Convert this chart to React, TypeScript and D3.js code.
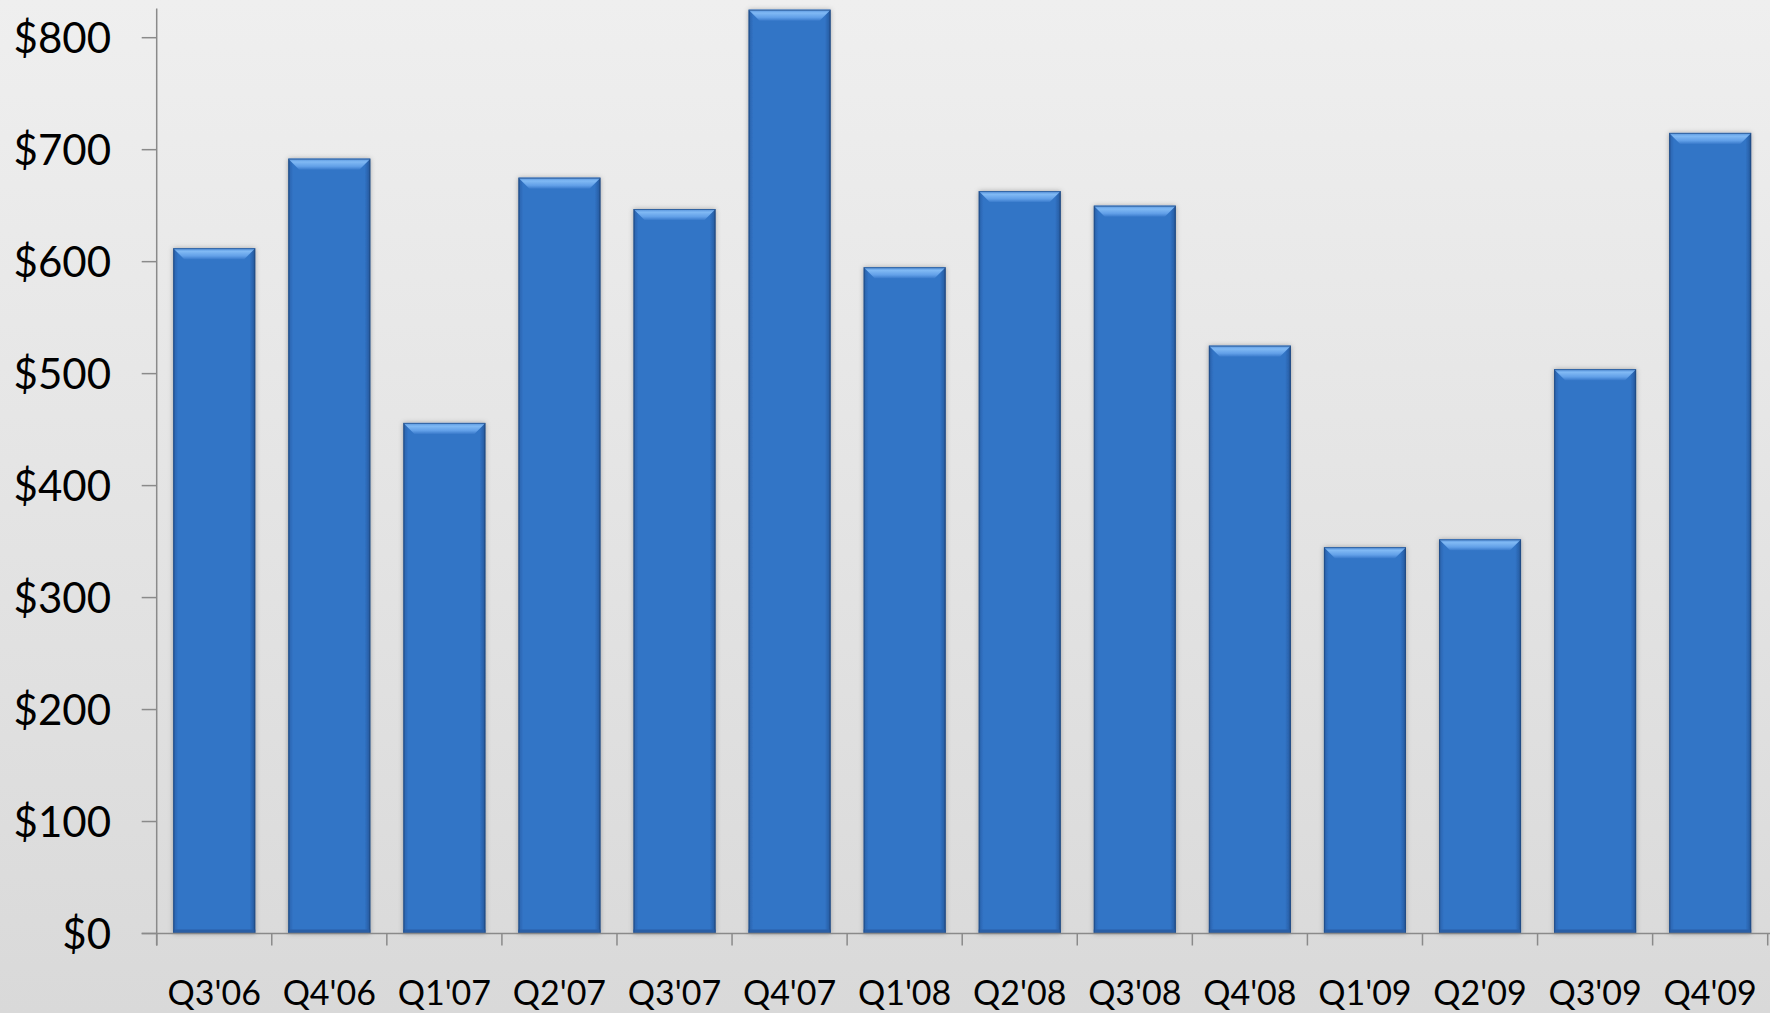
import React from 'react';
import * as d3 from 'd3';

// Quarterly revenue ($ millions)
const quarters = ["Q3'06", "Q4'06", "Q1'07", "Q2'07", "Q3'07", "Q4'07", "Q1'08", "Q2'08", "Q3'08", "Q4'08", "Q1'09", "Q2'09", "Q3'09", "Q4'09"];
const revenue = [612, 692, 456, 675, 647, 825, 595, 663, 650, 525, 345, 352, 504, 715];
const yTicks = [0, 100, 200, 300, 400, 500, 600, 700, 800];
const axisTop = 826;

const W = 1770;
const H = 1013;

export default function App() {
  React.useEffect(() => {
    document.body.style.margin = '0';
  }, []);

  const x = d3
    .scaleBand<string>()
    .domain(quarters)
    .range([156.7, 1767.7])
    .paddingInner(0.287)
    .paddingOuter(0.1435);
  const y = d3.scaleLinear().domain([0, 800]).range([933.5, 37.7]);

  const x0 = 156.7;
  const y0 = y(0);
  const step = x.step();
  const bevel = 11;
  const font = "Lato, 'Open Sans', sans-serif";

  return (
    <svg width={W} height={H} style={{ display: 'block' }}>
      <defs>
        <linearGradient id="bg" x1="0" y1="0" x2="0" y2="1">
          <stop offset="0%" stopColor="#efefef" />
          <stop offset="100%" stopColor="#d9d9d9" />
        </linearGradient>
        <linearGradient id="barBody" x1="0" y1="0" x2="1" y2="0">
          <stop offset="0%" stopColor="#24528f" />
          <stop offset="2.5%" stopColor="#2d69b6" />
          <stop offset="6%" stopColor="#3174c6" />
          <stop offset="93%" stopColor="#3174c6" />
          <stop offset="97.5%" stopColor="#2a62ab" />
          <stop offset="100%" stopColor="#1f4880" />
        </linearGradient>
        <linearGradient id="bevelTop" x1="0" y1="0" x2="0" y2="1">
          <stop offset="0%" stopColor="#5592dc" />
          <stop offset="30%" stopColor="#80b9f4" />
          <stop offset="70%" stopColor="#62a0e8" />
          <stop offset="100%" stopColor="#3a7bcc" />
        </linearGradient>
        <filter id="shadow" x="-20%" y="-5%" width="140%" height="110%">
          <feDropShadow dx="0" dy="0" stdDeviation="2.5" floodColor="#000" floodOpacity="0.3" />
        </filter>
      </defs>

      <rect x={0} y={0} width={W} height={H} fill="url(#bg)" />

      {/* bars */}
      {quarters.map((q, i) => {
        const bx = x(q) as number;
        const bw = x.bandwidth();
        const top = y(revenue[i]);
        const h = y0 - top;
        return (
          <g key={q}>
            <rect x={bx} y={top} width={bw} height={h} fill="url(#barBody)" filter="url(#shadow)" />
            <polygon
              points={`${bx},${top} ${bx + bw},${top} ${bx + bw - bevel},${top + bevel} ${bx + bevel},${top + bevel}`}
              fill="url(#bevelTop)"
            />
            <rect x={bx} y={y0 - 4} width={bw} height={4} fill="#2a5fa6" />
            <rect
              x={bx + 0.5}
              y={top + 0.5}
              width={bw - 1}
              height={h - 1}
              fill="none"
              stroke="#1f4b86"
              strokeOpacity={0.7}
              strokeWidth={1}
            />
          </g>
        );
      })}

      {/* y axis */}
      <line x1={x0} x2={x0} y1={y(axisTop)} y2={y0 + 12} stroke="#8a8a8a" strokeWidth={1.5} />
      {yTicks.map((t) => (
        <g key={t}>
          <line x1={x0 - 15} x2={x0} y1={y(t)} y2={y(t)} stroke="#8a8a8a" strokeWidth={1.5} />
          <text
            x={111}
            y={y(t)}
            dy="0.36em"
            textAnchor="end"
            fontFamily={font}
            fontSize={42}
            fill="#000"
          >
            {`$${t}`}
          </text>
        </g>
      ))}

      {/* x axis */}
      <line x1={x0 - 15} x2={W} y1={y0} y2={y0} stroke="#8a8a8a" strokeWidth={1.5} />
      {d3.range(quarters.length + 1).map((i) => (
        <line
          key={i}
          x1={x0 + i * step}
          x2={x0 + i * step}
          y1={y0}
          y2={y0 + 12}
          stroke="#8a8a8a"
          strokeWidth={1.5}
        />
      ))}
      {quarters.map((q) => (
        <text
          key={q}
          x={(x(q) as number) + x.bandwidth() / 2}
          y={1004.5}
          textAnchor="middle"
          fontFamily={font}
          fontSize={34}
          fill="#000"
        >
          {q}
        </text>
      ))}
    </svg>
  );
}
